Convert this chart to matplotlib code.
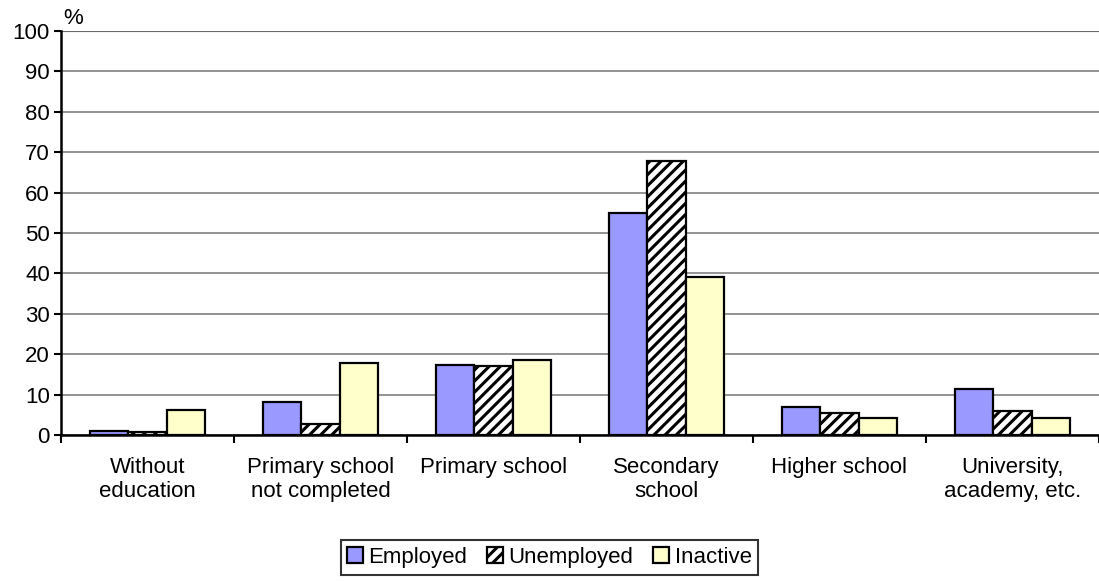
import matplotlib as mpl
import matplotlib.pyplot as plt
import numpy as np

mpl.rcParams['font.family'] = ['Liberation Sans', 'DejaVu Sans']
mpl.rcParams['hatch.linewidth'] = 2.2

categories = ["Without\neducation", "Primary school\nnot completed", "Primary school",
              "Secondary\nschool", "Higher school", "University,\nacademy, etc."]
employed = [1.0, 8.2, 17.3, 55.0, 7.0, 11.5]
unemployed = [0.8, 2.7, 17.1, 67.8, 5.5, 6.0]
inactive = [6.2, 17.8, 18.6, 39.1, 4.1, 4.2]

fig = plt.figure(figsize=(10.99, 5.81), dpi=100)
ax = fig.add_axes([0.0555, 0.2513, 0.9445, 0.6953])

x = np.arange(len(categories))
w = 0.222
ax.bar(x - w, employed, w, color='#9999FF', edgecolor='black', lw=1.6, label='Employed', zorder=3)
ax.bar(x, unemployed, w, color='white', edgecolor='black', lw=1.6, hatch='///', label='Unemployed', zorder=3)
ax.bar(x + w, inactive, w, color='#FFFFCC', edgecolor='black', lw=1.6, label='Inactive', zorder=3)

ax.set_xlim(-0.5, len(categories) - 0.5)
ax.set_ylim(0, 100)
ax.set_yticks(range(0, 101, 10))
ax.yaxis.grid(True, color='#808080', lw=1.2, zorder=0)
ax.axhline(100, color='black', lw=1.5, zorder=1)

ax.set_xticks(np.arange(-0.5, len(categories), 1))
ax.set_xticklabels([])
ax.set_xticks(x, minor=True)
ax.set_xticklabels(categories, minor=True, fontsize=16, linespacing=1.2)
ax.tick_params(axis='x', which='minor', length=0, pad=16)
ax.tick_params(axis='x', which='major', length=6, width=1.5, direction='out')
ax.tick_params(axis='y', length=5, width=1.5, direction='out', labelsize=16, pad=3)

for s in ['top', 'right']:
    ax.spines[s].set_visible(False)
ax.spines['left'].set_linewidth(1.8)
ax.spines['bottom'].set_linewidth(1.8)

ax.text(0.002, 1.005, '%', transform=ax.transAxes, fontsize=16, ha='left', va='bottom')

leg = fig.legend(loc='lower center', bbox_to_anchor=(0.5, -0.008), ncol=3, fontsize=16,
                 frameon=True, fancybox=False, edgecolor='black', handlelength=0.7,
                 handleheight=0.7, handletextpad=0.25, columnspacing=0.9, borderpad=0.3)
leg.get_frame().set_linewidth(1.5)

plt.savefig("out.png", dpi=100)
